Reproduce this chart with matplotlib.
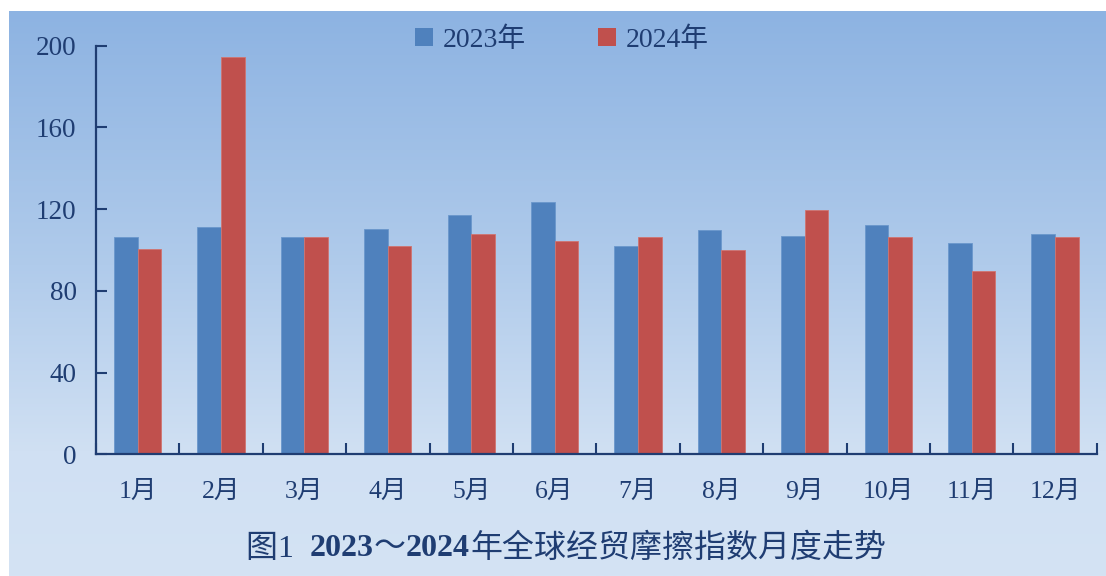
import numpy as np
import matplotlib
matplotlib.use("Agg")
import matplotlib.pyplot as plt
from matplotlib.colors import LinearSegmentedColormap
from matplotlib.patches import Patch

# data
months = ["1月", "2月", "3月", "4月", "5月", "6月",
          "7月", "8月", "9月", "10月", "11月", "12月"]
values_2023 = [106.4, 111.1, 106.4, 110.4, 117.1, 123.3,
               101.8, 109.6, 106.7, 112.4, 103.6, 107.7]
values_2024 = [100.3, 194.5, 106.2, 102.0, 108.0, 104.2,
               106.4, 100.2, 119.6, 106.2, 89.7, 106.2]
y_ticks = [0, 40, 80, 120, 160, 200]
series_names = ["2023年", "2024年"]
title_parts = ["图1  ", "2023", "～", "2024", "年全球经贸摩擦指数月度走势"]
title_weights = ["normal", "bold", "normal", "bold", "normal"]

BLUE = "#4f81bd"
RED = "#c0504d"
NAVY = "#1f3d72"
FONTS = ["Liberation Serif", "Noto Sans CJK SC", "DejaVu Sans"]

plt.rcParams["font.family"] = FONTS

fig = plt.figure(figsize=(11.06, 5.76), dpi=100)
fig.patch.set_facecolor("white")

# gradient background panel
bg = fig.add_axes([9 / 1106, 0, 1 - 9 / 1106, 1 - 11 / 576])
bg.set_axis_off()
cmap = LinearSegmentedColormap.from_list(
    "bg", [(0.0, "#8db3e2"), (0.45, "#b0cbeb"), (0.78, "#d0e0f3"), (1.0, "#d4e3f4")])
grad = np.linspace(0, 1, 256).reshape(-1, 1)
bg.imshow(grad, aspect="auto", cmap=cmap, extent=[0, 1, 1, 0])
bg.set_zorder(0)

ax = fig.add_axes([96 / 1106, 1 - 454.3 / 576, (1096.7 - 96) / 1106, (454.3 - 45.7) / 576])
ax.set_zorder(1)
ax.patch.set_alpha(0)

x = np.arange(1, len(months) + 1)
w = 0.283
ax.bar(x - w / 2, values_2023, w, color=BLUE, edgecolor="#6a97cc", linewidth=0.6)
ax.bar(x + w / 2, values_2024, w, color=RED, edgecolor="#d07470", linewidth=0.6)

ax.set_xlim(0.5, len(months) + 0.5)
ax.set_ylim(0, 200)
ax.set_yticks(y_ticks)
ax.set_xticks(x)
ax.set_xticklabels(months)
ax.set_xticks(np.arange(0.5, len(months) + 1), minor=True)

for s in ["top", "right"]:
    ax.spines[s].set_visible(False)
for s in ["left", "bottom"]:
    ax.spines[s].set_color(NAVY)
    ax.spines[s].set_linewidth(1.6)

ax.tick_params(axis="y", direction="in", length=8, width=1.5, color=NAVY,
               labelsize=19.5, labelcolor=NAVY, pad=14)
ax.tick_params(axis="x", which="major", length=0, labelsize=18.5,
               labelcolor=NAVY, pad=19)
ax.tick_params(axis="x", which="minor", direction="in", length=8, width=1.5,
               color=NAVY)

handles = [Patch(facecolor=BLUE), Patch(facecolor=RED)]
fig.legend(handles, series_names, loc="center", bbox_to_anchor=(562 / 1106, 1 - 40 / 576),
           ncol=2, frameon=False, fontsize=20, labelcolor=NAVY,
           handlelength=0.65, handleheight=0.65, handletextpad=0.35,
           columnspacing=2.6)

# caption built from pieces so the years can be bold
fig.canvas.draw()
renderer = fig.canvas.get_renderer()
texts = []
for part, wt in zip(title_parts, title_weights):
    t = fig.text(0, 1 - 549 / 576, part, fontsize=23, color=NAVY, fontweight=wt,
                 va="center", ha="left")
    texts.append(t)
widths = [t.get_window_extent(renderer).width for t in texts]
start = 566 - sum(widths) / 2
for t, wd in zip(texts, widths):
    t.set_x(start / 1106)
    start += wd

fig.savefig("out.png", dpi=100)
